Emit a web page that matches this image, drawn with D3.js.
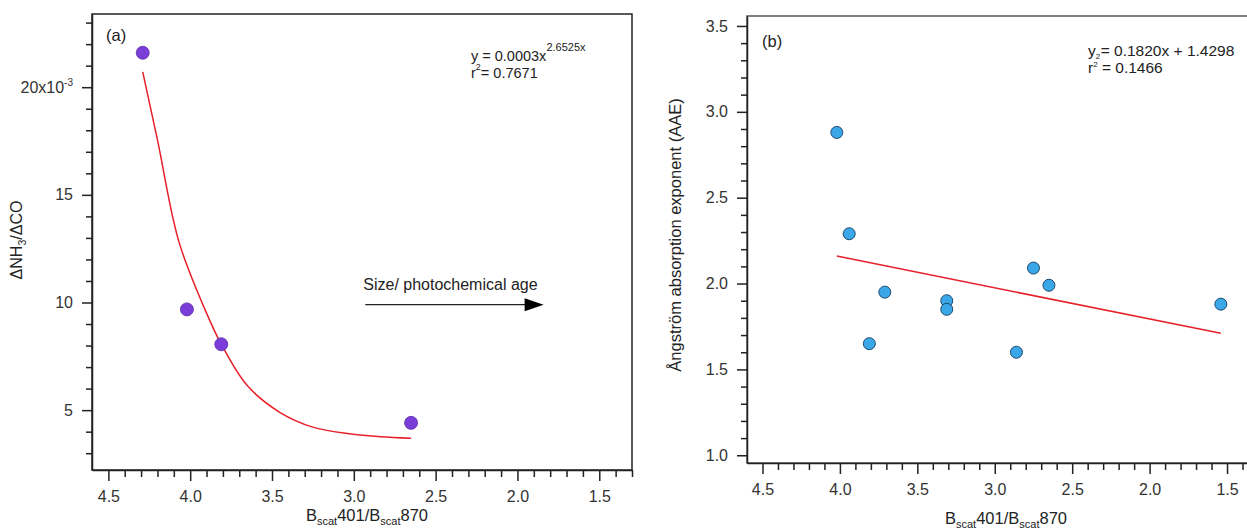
<!DOCTYPE html>
<html>
<head>
<meta charset="utf-8">
<script src="https://cdn.jsdelivr.net/npm/d3@7"></script>
<style>
  body { margin: 0; background: #fff; }
  svg { display: block; font-family: "Liberation Sans", Arial, sans-serif; }
  .tick text { fill: #333; font-size: 16px; }
  .domain, .tick line { stroke: #222; stroke-width: 1.5; }
</style>
</head>
<body>
<svg id="chart" width="1247" height="531"></svg>
<script>
// shared x ticks (axis runs high -> low)
var xMajor = [4.5, 4.0, 3.5, 3.0, 2.5, 2.0, 1.5];

// panel (a): dNH3/dCO in units of 1e-3
var aX = [4.29, 4.02, 3.81, 2.65];
var aY = [21.6, 9.68, 8.06, 4.41];
var aFitX = [4.29, 4.20, 4.07, 3.91, 3.81, 3.65, 3.45, 3.25, 3.04, 2.84, 2.65];
var aFitY = [20.71, 17.55, 12.85, 9.68, 8.06, 6.13, 4.89, 4.21, 3.91, 3.77, 3.70];
var aYMajor = [5, 10, 15, 20];
var arrowX = [2.93, 1.84];
var arrowY = 9.9;

// panel (b): AAE
var bX = [4.02, 3.94, 3.71, 3.81, 3.31, 3.31, 2.75, 2.65, 2.86, 1.54];
var bY = [2.88, 2.29, 1.95, 1.65, 1.90, 1.85, 2.09, 1.99, 1.60, 1.88];
var bFitX = [4.02, 1.54];
var bFitY = [2.16, 1.71];
var bYMajor = [1.0, 1.5, 2.0, 2.5, 3.0, 3.5];

var svg = d3.select("#chart");

function minorTicks(lo, hi, step, major) {
  var out = [];
  for (var v = lo; v <= hi + 1e-9; v += step) {
    var r = Math.round(v * 100) / 100;
    if (!major.some(function(m) { return Math.abs(m - r) < 1e-6; })) out.push(r);
  }
  return out;
}

function panel(opt) {
  var x = d3.scaleLinear().domain([4.6, 1.3]).range([opt.left, opt.right]);
  var y = d3.scaleLinear().domain(opt.yDomain).range([opt.bottom, opt.top]);
  var g = svg.append("g");

  // frame
  g.append("rect")
    .attr("x", opt.left).attr("y", opt.top)
    .attr("width", opt.right - opt.left).attr("height", opt.bottom - opt.top)
    .attr("fill", "none").attr("stroke", opt.frame).attr("stroke-width", 1.5);

  // x axis
  g.append("g").attr("transform", "translate(0," + opt.bottom + ")")
    .call(d3.axisBottom(x).tickValues(xMajor).tickSize(11).tickSizeOuter(0).tickPadding(10)
      .tickFormat(d3.format(".1f")));
  g.append("g").attr("transform", "translate(0," + opt.bottom + ")")
    .call(d3.axisBottom(x).tickValues(minorTicks(1.3, 4.5, 0.1, xMajor)).tickSize(7)
      .tickSizeOuter(0).tickFormat(""))
    .select(".domain").remove();

  // y axis
  var ya = g.append("g").attr("transform", "translate(" + opt.left + ",0)")
    .call(d3.axisLeft(y).tickValues(opt.yMajor).tickSize(10).tickSizeOuter(0).tickPadding(9)
      .tickFormat(opt.yFormat));
  g.append("g").attr("transform", "translate(" + opt.left + ",0)")
    .call(d3.axisLeft(y).tickValues(opt.yMinor).tickSize(6).tickSizeOuter(0).tickFormat(""))
    .select(".domain").remove();

  return { g: g, x: x, y: y, ya: ya };
}

// ---- panel (a)
var pa = panel({
  left: 92, right: 632, top: 14, bottom: 470, frame: "#222",
  yDomain: [2.22, 23.4], yMajor: aYMajor,
  yMinor: minorTicks(3, 23, 1, aYMajor),
  yFormat: function(d) { return d; }
});
// 20x10^-3 label
pa.ya.selectAll(".tick text").filter(function(d) { return d === 20; })
  .text("20x10").append("tspan").attr("dy", -7).attr("font-size", 10).text("-3");

pa.g.append("path")
  .datum(aFitX.map(function(d, i) { return [d, aFitY[i]]; }))
  .attr("fill", "none").attr("stroke", "#e8202a").attr("stroke-width", 1.5)
  .attr("d", d3.line().x(function(d) { return pa.x(d[0]); }).y(function(d) { return pa.y(d[1]); })
    .curve(d3.curveCatmullRom));

pa.g.selectAll(".pt").data(aX).enter().append("circle")
  .attr("cx", function(d) { return pa.x(d); })
  .attr("cy", function(d, i) { return pa.y(aY[i]); })
  .attr("r", 6.5).attr("fill", "#7b3dd8").attr("stroke", "#5b2aa8").attr("stroke-width", 0.8);

// arrow annotation
var ax1 = pa.x(arrowX[1]), ay1 = pa.y(arrowY);
pa.g.append("line")
  .attr("x1", pa.x(arrowX[0])).attr("x2", ax1 - 18)
  .attr("y1", ay1).attr("y2", ay1)
  .attr("stroke", "#222").attr("stroke-width", 1.2);
pa.g.append("path")
  .attr("d", "M" + ax1 + "," + ay1 + "L" + (ax1 - 19) + "," + (ay1 - 6.5) + "L" + (ax1 - 19) + "," + (ay1 + 6.5) + "Z")
  .attr("fill", "#000");
pa.g.append("text").attr("x", pa.x(arrowX[0]) - 2).attr("y", ay1 - 15)
  .attr("font-size", 16).attr("fill", "#222").text("Size/ photochemical age");

pa.g.append("text").attr("x", 106).attr("y", 41).attr("font-size", 16.5).attr("fill", "#222").text("(a)");

var ea = pa.g.append("text").attr("x", 471).attr("y", 61).attr("font-size", 14.5).attr("fill", "#222");
ea.append("tspan").text("y = 0.0003x");
ea.append("tspan").attr("dy", -10).attr("font-size", 11).text("2.6525x");
var ra = pa.g.append("text").attr("x", 471).attr("y", 78).attr("font-size", 14.5).attr("fill", "#222");
ra.append("tspan").text("r");
ra.append("tspan").attr("dy", -8).attr("font-size", 9).text("2");
ra.append("tspan").attr("dy", 8).text("= 0.7671");

// ---- panel (b)
var pb = panel({
  left: 747, right: 1258, top: 16, bottom: 463, frame: "#555",
  yDomain: [0.955, 3.558], yMajor: bYMajor,
  yMinor: minorTicks(1.0, 3.5, 0.1, bYMajor),
  yFormat: d3.format(".1f")
});

pb.g.append("path")
  .datum(bFitX.map(function(d, i) { return [d, bFitY[i]]; }))
  .attr("fill", "none").attr("stroke", "#e8202a").attr("stroke-width", 1.5)
  .attr("d", d3.line().x(function(d) { return pb.x(d[0]); }).y(function(d) { return pb.y(d[1]); }));

pb.g.selectAll(".pt").data(bX).enter().append("circle")
  .attr("cx", function(d) { return pb.x(d); })
  .attr("cy", function(d, i) { return pb.y(bY[i]); })
  .attr("r", 6).attr("fill", "#3aa8e8").attr("stroke", "#1d4a6e").attr("stroke-width", 1);

pb.g.append("text").attr("x", 762).attr("y", 47).attr("font-size", 16.5).attr("fill", "#222").text("(b)");

var eb = pb.g.append("text").attr("x", 1088).attr("y", 56).attr("font-size", 15.5).attr("fill", "#222");
eb.append("tspan").text("y");
eb.append("tspan").attr("dy", 3).attr("font-size", 8).text("2");
eb.append("tspan").attr("dy", -3).attr("dx", 0.5).text("= 0.1820x + 1.4298");
var rb = pb.g.append("text").attr("x", 1088).attr("y", 73).attr("font-size", 15.5).attr("fill", "#222");
rb.append("tspan").text("r");
rb.append("tspan").attr("dy", -6.5).attr("font-size", 8).text("2");
rb.append("tspan").attr("dy", 6.5).text(" = 0.1466");

// axis titles
function xTitle(cx, yb) {
  var t = svg.append("text").attr("x", cx).attr("y", yb).attr("text-anchor", "middle")
    .attr("font-size", 16.5).attr("fill", "#222");
  t.append("tspan").text("B");
  t.append("tspan").attr("dy", 4).attr("font-size", 11).text("scat");
  t.append("tspan").attr("dy", -4).text("401/B");
  t.append("tspan").attr("dy", 4).attr("font-size", 11).text("scat");
  t.append("tspan").attr("dy", -4).text("870");
}
xTitle(367, 521);
xTitle(1006, 524);

var yta = svg.append("text").attr("transform", "translate(22,240) rotate(-90)")
  .attr("text-anchor", "middle").attr("font-size", 16).attr("fill", "#222");
yta.append("tspan").text("ΔNH");
yta.append("tspan").attr("dy", 4).attr("font-size", 10.5).text("3");
yta.append("tspan").attr("dy", -4).text("/ΔCO");

svg.append("text").attr("transform", "translate(681,235) rotate(-90)")
  .attr("text-anchor", "middle").attr("font-size", 16.5).attr("fill", "#222")
  .text("Ångström absorption exponent (AAE)");
</script>
</body>
</html>
